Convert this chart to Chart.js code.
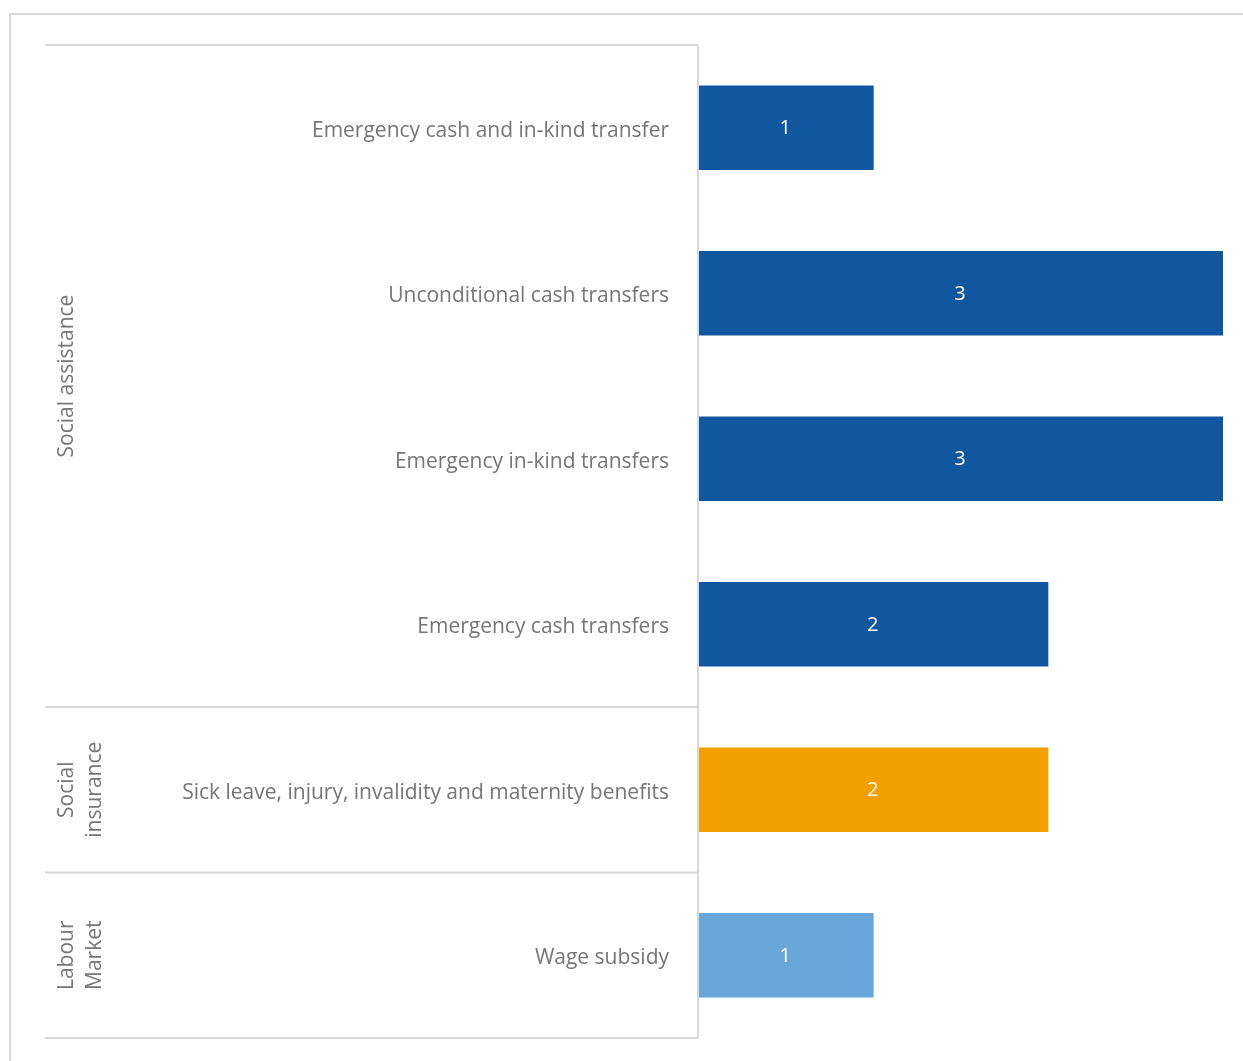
<!DOCTYPE html>
<html lang="en">
<head>
<meta charset="UTF-8">
<title>Programmes by type</title>
<script src="https://cdn.jsdelivr.net/npm/chart.js"></script>
<style>
  html, body { margin: 0; padding: 0; background: #fff; }
  #wrap { width: 1243px; height: 1061px; position: relative; }
</style>
</head>
<body>
<div id="wrap"><canvas id="myChart" width="1243" height="1061"></canvas></div>
<script>
// data
const categories = [
  'Emergency cash and in-kind transfer',
  'Unconditional cash transfers',
  'Emergency in-kind transfers',
  'Emergency cash transfers',
  'Sick leave, injury, invalidity and maternity benefits',
  'Wage subsidy'
];
const values = [1, 3, 3, 2, 2, 1];
const groups = [
  { lines: ['Social assistance'], from: 0, to: 3 },
  { lines: ['Social', 'insurance'], from: 4, to: 4 },
  { lines: ['Labour', 'Market'], from: 5, to: 5 }
];
const barColors = ['#11579f', '#11579f', '#11579f', '#11579f', '#f29f00', '#69a7da'];

const FONT = '"Open Sans", "Liberation Sans", sans-serif';
const GREY = '#d9d9d9';
const TEXT = '#767676';

// draws the outer frame, the label table and the category / group labels
const tablePlugin = {
  id: 'table',
  afterDraw(chart) {
    const ctx = chart.ctx;
    const y = chart.scales.y;
    const area = chart.chartArea;
    const left = 45;
    const right = area.left - 1;

    ctx.save();
    ctx.strokeStyle = GREY;
    ctx.lineWidth = 2;
    // outer frame (runs off the right edge)
    ctx.strokeRect(10, 14, 1300, 1100);

    // table lines
    const top = y.getPixelForValue(-0.5);
    const bottom = y.getPixelForValue(categories.length - 0.5);
    ctx.beginPath();
    ctx.moveTo(left, top); ctx.lineTo(right, top);
    ctx.moveTo(right, top); ctx.lineTo(right, bottom);
    groups.forEach(g => {
      const yy = y.getPixelForValue(g.to + 0.5);
      ctx.moveTo(left, yy); ctx.lineTo(right, yy);
    });
    ctx.stroke();

    // category labels
    ctx.fillStyle = TEXT;
    ctx.font = '21px ' + FONT;
    ctx.textAlign = 'right';
    ctx.textBaseline = 'middle';
    categories.forEach((c, i) => {
      ctx.fillText(c, right - 29, y.getPixelForValue(i) + 3);
    });

    // group labels, rotated
    groups.forEach(g => {
      const cy = (y.getPixelForValue(g.from - 0.5) + y.getPixelForValue(g.to + 0.5)) / 2;
      ctx.save();
      ctx.translate(0, cy);
      ctx.rotate(-Math.PI / 2);
      ctx.textAlign = 'center';
      g.lines.forEach((t, k) => {
        ctx.fillText(t, 0, 67 + k * 28);
      });
      ctx.restore();
    });
    ctx.restore();
  }
};

// value labels in the middle of each bar
const valuePlugin = {
  id: 'values',
  afterDatasetsDraw(chart) {
    const ctx = chart.ctx;
    const meta = chart.getDatasetMeta(0);
    ctx.save();
    ctx.fillStyle = '#ffffff';
    ctx.font = '20px ' + FONT;
    ctx.textAlign = 'center';
    ctx.textBaseline = 'middle';
    meta.data.forEach((bar, i) => {
      const cx = (bar.x + bar.base) / 2;
      ctx.fillText(String(values[i]), cx - 1, bar.y + 1);
    });
    ctx.restore();
  }
};

new Chart(document.getElementById('myChart'), {
  type: 'bar',
  data: {
    labels: categories,
    datasets: [{
      data: values,
      backgroundColor: barColors,
      borderWidth: 0,
      barPercentage: 0.51,
      categoryPercentage: 1
    }]
  },
  options: {
    indexAxis: 'y',
    responsive: false,
    animation: false,
    layout: { padding: { left: 699, right: 20, top: 45, bottom: 23 } },
    plugins: {
      legend: { display: false },
      tooltip: { enabled: false }
    },
    scales: {
      x: { display: false, min: 0, max: 3 },
      y: { display: false }
    }
  },
  plugins: [tablePlugin, valuePlugin]
});
</script>
</body>
</html>
